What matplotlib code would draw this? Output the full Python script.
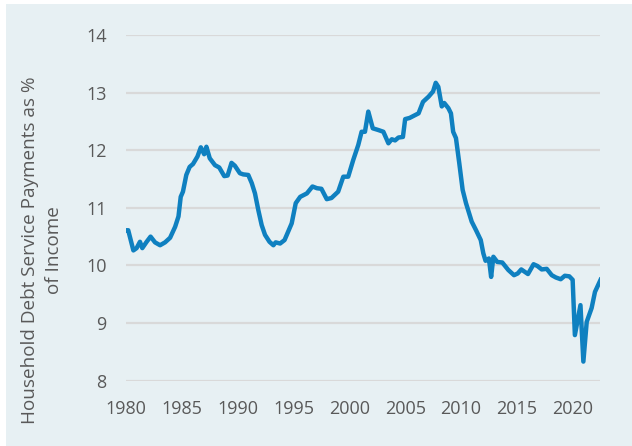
import matplotlib
matplotlib.use("Agg")
import matplotlib.pyplot as plt
from matplotlib.patches import Rectangle

# Household debt service payments as % of disposable income
years = [
    1980.0, 1980.2, 1980.66, 1980.95, 1981.25, 1981.46, 1981.85, 1982.2, 1982.6,
    1983.05, 1983.5, 1983.95, 1984.4, 1984.7, 1984.9, 1985.1, 1985.4, 1985.7,
    1986.0, 1986.4, 1986.7, 1987.0, 1987.2, 1987.5, 1987.97, 1988.35, 1988.8,
    1989.1, 1989.45, 1989.75, 1990.2, 1990.5, 1990.95, 1991.26, 1991.55, 1991.85,
    1992.15, 1992.45, 1992.85, 1993.2, 1993.4, 1993.8, 1994.2, 1994.84, 1995.2,
    1995.6, 1996.2, 1996.7, 1997.1, 1997.5, 1997.98, 1998.4, 1999.0, 1999.46,
    1999.9, 2000.35, 2000.8, 2001.1, 2001.4, 2001.7, 2002.1, 2002.6, 2003.05,
    2003.5, 2003.8, 2004.1, 2004.4, 2004.8, 2005.0, 2005.4, 2005.9, 2006.2,
    2006.6, 2007.1, 2007.5, 2007.74, 2007.97, 2008.28, 2008.5, 2008.87, 2009.1,
    2009.3, 2009.55, 2009.85, 2010.15, 2010.45, 2010.96, 2011.35, 2011.77,
    2012.0, 2012.2, 2012.5, 2012.7, 2012.9, 2013.25, 2013.7, 2014.24, 2014.75,
    2015.08, 2015.4, 2016.0, 2016.5, 2016.84, 2017.23, 2017.68, 2018.13, 2018.5,
    2018.93, 2019.3, 2019.7, 2020.0, 2020.2, 2020.7, 2020.96, 2021.26, 2021.7,
    2022.0, 2022.5,
]
dsr = [
    10.61, 10.61, 10.26, 10.30, 10.41, 10.30, 10.41, 10.50, 10.40,
    10.35, 10.40, 10.48, 10.67, 10.85, 11.19, 11.28, 11.57, 11.71,
    11.76, 11.89, 12.05, 11.93, 12.06, 11.86, 11.74, 11.70, 11.55,
    11.56, 11.78, 11.73, 11.60, 11.58, 11.57, 11.43, 11.25, 10.96,
    10.70, 10.53, 10.41, 10.35, 10.40, 10.38, 10.44, 10.73, 11.08,
    11.19, 11.25, 11.37, 11.34, 11.33, 11.15, 11.17, 11.28, 11.54,
    11.54, 11.83, 12.09, 12.32, 12.32, 12.67, 12.38, 12.35, 12.32,
    12.12, 12.19, 12.17, 12.22, 12.23, 12.54, 12.56, 12.61, 12.64,
    12.84, 12.93, 13.02, 13.17, 13.10, 12.76, 12.82, 12.73, 12.64,
    12.32, 12.21, 11.77, 11.31, 11.08, 10.76, 10.61, 10.44,
    10.21, 10.08, 10.12, 9.80, 10.15, 10.06, 10.05, 9.92, 9.83,
    9.86, 9.93, 9.85, 10.02, 9.99, 9.93, 9.94, 9.83, 9.79,
    9.76, 9.82, 9.81, 9.75, 8.79, 9.31, 8.33, 9.02, 9.26,
    9.54, 9.75,
]
x_ticks = [1980, 1985, 1990, 1995, 2000, 2005, 2010, 2015, 2020]
y_ticks = [8, 9, 10, 11, 12, 13, 14]

text_color = "#595959"
panel_color = "#E7F0F3"
line_color = "#0F80C0"

plt.rcParams["font.family"] = ["Open Sans", "DejaVu Sans"]

W, H = 632, 446
fig = plt.figure(figsize=(W / 100, H / 100), dpi=100, facecolor="white")
fig.patches.append(Rectangle((6 / W, 0), 1 - 6 / W, 1 - 4 / H,
                             transform=fig.transFigure, facecolor=panel_color,
                             edgecolor="none", zorder=-10))

ax = fig.add_axes([126 / W, 1 - 380.6 / H, 474 / W, 345.6 / H])
ax.set_facecolor("none")
ax.plot(years, dsr, color=line_color, linewidth=3.2, solid_joinstyle="round", zorder=3)

ax.set_xlim(1980, 2022.45)
ax.set_ylim(8, 14)
ax.set_xticks(x_ticks)
ax.set_yticks(y_ticks)
ax.tick_params(axis="both", length=0, labelsize=13, labelcolor=text_color)
ax.tick_params(axis="y", pad=14)
ax.tick_params(axis="x", pad=14)
ax.grid(True, axis="y", color="#D9D9D9", linewidth=1.6)
ax.set_axisbelow(True)
for s in ax.spines.values():
    s.set_visible(False)

fig.text(42 / W, 1 - 250 / H, "Household Debt Service Payments as %\nof Income",
         rotation=90, ha="center", va="center", multialignment="center",
         fontsize=13.6, color=text_color, linespacing=1.4)

fig.savefig("out.png", dpi=100, facecolor="white")
